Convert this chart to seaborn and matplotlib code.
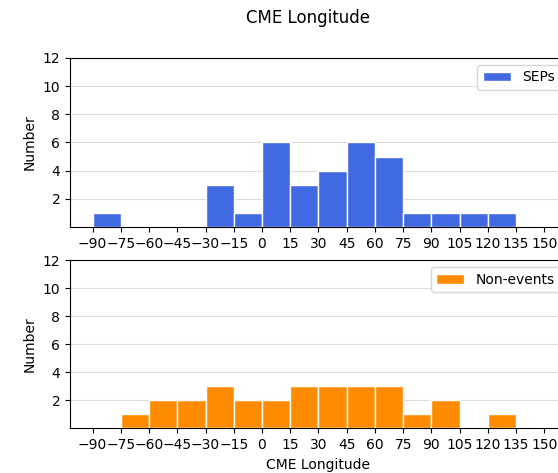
import numpy as np
import pandas as pd
import matplotlib
matplotlib.use("Agg")
import matplotlib.pyplot as plt
import seaborn as sns

# Longitude bin edges (degrees) and counts per 15-degree bin
bin_edges = list(range(-90, 151, 15))
sep_counts = [1, 0, 0, 0, 3, 1, 6, 3, 4, 6, 5, 1, 1, 1, 1, 0]
nonevent_counts = [0, 1, 2, 2, 3, 2, 2, 3, 3, 3, 3, 1, 2, 0, 1, 0]
x_ticks = list(range(-90, 151, 15))
y_ticks = [2, 4, 6, 8, 10, 12]

centers = [e + 7.5 for e in bin_edges[:-1]]
sep_df = pd.DataFrame({"lon": centers, "n": sep_counts})
non_df = pd.DataFrame({"lon": centers, "n": nonevent_counts})

sns.set_style("ticks")
plt.rcParams["font.family"] = ["DejaVu Sans"]
plt.rcParams["text.color"] = "black"
plt.rcParams["axes.labelcolor"] = "black"

fig = plt.figure(figsize=(5.58, 4.73), dpi=100)
ax1 = fig.add_axes([0.1254, 0.5203, 0.8906, 0.3571])
ax2 = fig.add_axes([0.1254, 0.0941, 0.8906, 0.3562])

panels = [
    (ax1, sep_df, "#4169E1", "SEPs"),
    (ax2, non_df, "#FF8C00", "Non-events"),
]
for ax, df, color, label in panels:
    sns.histplot(data=df, x="lon", weights="n", bins=bin_edges, ax=ax,
                 color=color, alpha=1.0, edgecolor="white", linewidth=1.0,
                 label=label, zorder=3)
    ax.set_xlim(-102, 162)
    ax.set_ylim(0, 12)
    ax.set_xticks(x_ticks)
    ax.set_yticks(y_ticks)
    ax.tick_params(axis="both", labelsize=10, direction="out", length=3.5,
                   width=0.8, colors="black")
    ax.grid(axis="y", color="#dddddd", linewidth=0.8, zorder=0)
    ax.set_axisbelow(True)
    for s in ax.spines.values():
        s.set_visible(True)
        s.set_color("black")
        s.set_linewidth(0.8)
    ax.set_ylabel("Number", fontsize=10)
    ax.set_xlabel("")
    ax.legend(loc="upper right", fontsize=10, frameon=True)

ax2.set_xlabel("CME Longitude", fontsize=10)
fig.text(0.552, 0.962, "CME Longitude", ha="center", va="center", fontsize=12)

fig.savefig("out.png", dpi=100)
